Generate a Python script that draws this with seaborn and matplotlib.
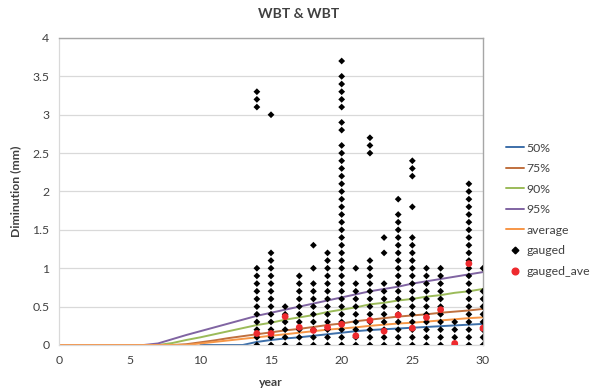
import numpy as np
import pandas as pd
import matplotlib
matplotlib.use("Agg")
import matplotlib.pyplot as plt
import seaborn as sns
from matplotlib.lines import Line2D

# ---- percentile / average diminution curves (mm) by service year ----
years = list(range(0, 31))
nan = np.nan
p50 = [nan] * 10 + [0, 0, 0, 0, 0.04, 0.065, 0.085, 0.10, 0.12, 0.14, 0.16,
                    0.18, 0.195, 0.205, 0.215, 0.225, 0.235, 0.245, 0.255, 0.265, 0.275]
p75 = [0] * 9 + [0.01, 0.035, 0.06, 0.09, 0.115, 0.14, 0.165, 0.19, 0.21, 0.235, 0.26,
                 0.28, 0.31, 0.33, 0.35, 0.37, 0.385, 0.40, 0.42, 0.435, 0.45, 0.47]
p90 = [0] * 8 + [0.025, 0.065, 0.10, 0.14, 0.18, 0.22, 0.26, 0.29, 0.33, 0.36, 0.39, 0.43,
                 0.46, 0.49, 0.53, 0.55, 0.58, 0.60, 0.63, 0.65, 0.68, 0.70, 0.73]
p95 = [0] * 7 + [0.02, 0.075, 0.13, 0.18, 0.23, 0.28, 0.33, 0.38, 0.42, 0.46, 0.50, 0.54,
                 0.58, 0.62, 0.66, 0.70, 0.73, 0.76, 0.80, 0.83, 0.86, 0.89, 0.92, 0.95]
average = [0] * 10 + [0.02, 0.04, 0.06, 0.08, 0.10, 0.12, 0.14, 0.16, 0.18, 0.20, 0.215,
                      0.23, 0.25, 0.265, 0.28, 0.29, 0.305, 0.32, 0.335, 0.35, 0.36]

# ---- gauged thickness diminution readings (mm), one list per year ----
g14 = [0, 0.1, 0.2, 0.3, 0.4, 0.5, 0.6, 0.7, 0.8, 0.9, 1.0, 3.1, 3.2, 3.3]
g15 = [0, 0.1, 0.2, 0.3, 0.4, 0.5, 0.6, 0.7, 0.8, 0.9, 1.0, 1.1, 1.2, 3.0]
g16 = [0, 0.1, 0.2, 0.3, 0.4, 0.5]
g17 = [0, 0.1, 0.2, 0.3, 0.4, 0.5, 0.6, 0.7, 0.8, 0.9]
g18 = [0, 0.1, 0.2, 0.3, 0.4, 0.5, 0.6, 0.7, 0.8, 1.0, 1.3]
g19 = [0, 0.1, 0.2, 0.3, 0.4, 0.5, 0.6, 0.7, 0.8, 0.9, 1.0, 1.1, 1.2]
g20 = [0, 0.1, 0.2, 0.3, 0.4, 0.5, 0.6, 0.7, 0.8, 0.9, 1.0, 1.1, 1.2, 1.3, 1.4, 1.5,
       1.6, 1.7, 1.8, 1.9, 2.0, 2.1, 2.2, 2.3, 2.4, 2.5, 2.6, 2.8, 2.9,
       3.1, 3.2, 3.3, 3.4, 3.5, 3.7]
g21 = [0, 0.1, 0.2, 0.3, 0.4, 0.5, 0.6, 0.7, 0.8, 1.0]
g22 = [0, 0.1, 0.2, 0.3, 0.4, 0.5, 0.6, 0.7, 0.8, 0.9, 1.0, 1.1, 2.5, 2.6, 2.7]
g23 = [0, 0.1, 0.2, 0.3, 0.4, 0.5, 0.6, 0.7, 0.8, 1.2, 1.4]
g24 = [0, 0.1, 0.2, 0.3, 0.4, 0.5, 0.6, 0.7, 0.8, 0.9, 1.0, 1.1, 1.2, 1.3, 1.4, 1.5,
       1.6, 1.7, 1.9]
g25 = [0, 0.1, 0.2, 0.3, 0.4, 0.5, 0.6, 0.7, 0.8, 0.9, 1.0, 1.1, 1.2, 1.3, 1.4, 1.8,
       2.2, 2.3, 2.4]
g26 = [0, 0.1, 0.2, 0.3, 0.4, 0.5, 0.6, 0.7, 0.8, 0.9, 1.0]
g27 = [0, 0.1, 0.2, 0.3, 0.4, 0.5, 0.6, 0.7, 0.8, 0.9, 1.0]
g28 = [0, 0.1, 0.2, 0.3]
g29 = [0, 0.1, 0.2, 0.3, 0.4, 0.5, 0.6, 0.7, 0.8, 0.9, 1.0, 1.1, 1.2, 1.3, 1.4, 1.5,
       1.6, 1.7, 1.8, 1.9, 2.0, 2.1]
g30 = [0, 0.1, 0.2, 0.3, 0.4, 0.5, 0.6, 0.7, 1.0]
gauged_years = list(range(14, 31))
gauged_cols = [g14, g15, g16, g17, g18, g19, g20, g21, g22, g23, g24, g25, g26,
               g27, g28, g29, g30]

# ---- mean of gauged readings per year ----
gauged_ave = [0.15, 0.15, 0.37, 0.23, 0.19, 0.23, 0.27, 0.12, 0.32, 0.18, 0.39,
              0.22, 0.36, 0.46, 0.02, 1.06, 0.22]

series_names = ["50%", "75%", "90%", "95%", "average"]
series_vals = [p50, p75, p90, p95, average]
colors = ["#3d6fa9", "#c0703e", "#9bbb59", "#8064a2", "#f79646"]

lines_df = pd.DataFrame({
    "year": years * len(series_names),
    "mm": np.concatenate(series_vals),
    "series": np.repeat(series_names, len(years)),
})
pts_df = pd.DataFrame({
    "year": np.concatenate([[y] * len(c) for y, c in zip(gauged_years, gauged_cols)]),
    "mm": np.concatenate(gauged_cols),
})
ave_df = pd.DataFrame({"year": gauged_years, "mm": gauged_ave})

sns.set_theme(style="white")
plt.rcParams["font.family"] = ["Lato", "DejaVu Sans"]

fig = plt.figure(figsize=(5.98, 3.90), dpi=100)
ax = fig.add_axes([0.0987, 0.1154, 0.709, 0.7872])

sns.lineplot(data=lines_df, x="year", y="mm", hue="series", hue_order=series_names,
             palette=colors, linewidth=1.4, ax=ax, legend=False, sort=False,
             estimator=None)
sns.scatterplot(data=pts_df, x="year", y="mm", marker="D", s=12, color="black",
                edgecolor="none", ax=ax, legend=False, zorder=3)
sns.scatterplot(data=ave_df, x="year", y="mm", marker="o", s=24, color="#ee2a2e",
                edgecolor="none", ax=ax, legend=False, zorder=4)

ax.set_xlim(0, 30)
ax.set_ylim(0, 4)
ax.set_xticks([0, 5, 10, 15, 20, 25, 30])
ax.set_yticks([0, 0.5, 1, 1.5, 2, 2.5, 3, 3.5, 4])
ax.set_yticklabels(["0", "0.5", "1", "1.5", "2", "2.5", "3", "3.5", "4"])
ax.yaxis.grid(True, color="#d9d9d9", linewidth=0.9)
ax.xaxis.grid(False)
ax.tick_params(axis="both", length=0, labelsize=8.8, colors="#404040", pad=7)

for side in ["left", "bottom"]:
    ax.spines[side].set_color("#d9d9d9")
    ax.spines[side].set_linewidth(0.9)
for side in ["top", "right"]:
    ax.spines[side].set_color("#a6a6a6")
    ax.spines[side].set_linewidth(1.0)

ax.set_xlabel("year", fontsize=8.8, fontweight="bold", color="#404040", labelpad=8)
ax.set_ylabel("Diminution (mm)", fontsize=8.8, fontweight="bold", color="#404040",
              labelpad=8)
fig.text(0.5, 0.963, "WBT & WBT", ha="center", va="center", fontsize=10,
         fontweight="bold", color="#404040")

handles = [Line2D([], [], color=c, linewidth=1.4) for c in colors]
handles.append(Line2D([], [], color="black", marker="D", markersize=3.4,
                      linestyle="none"))
handles.append(Line2D([], [], color="#ee2a2e", marker="o", markersize=4.8,
                      linestyle="none"))
fig.legend(handles, series_names + ["gauged", "gauged_ave"], loc="upper left",
           bbox_to_anchor=(0.836, 0.65), frameon=False, fontsize=8.8,
           handlelength=1.5, handletextpad=0.15, labelspacing=0.78,
           borderpad=0, labelcolor="#404040")

fig.savefig("out.png", dpi=100)
